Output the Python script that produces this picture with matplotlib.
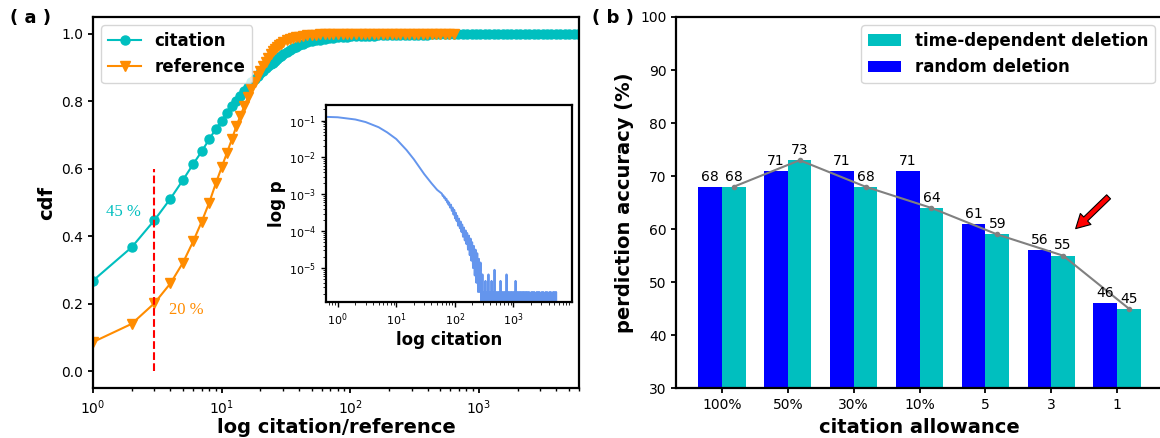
import numpy as np
import matplotlib
matplotlib.use("Agg")
import matplotlib.pyplot as plt

# ---- panel (a): cdf of citation / reference counts ----
cit_x = list(range(1, 31)) + [
    32, 34, 36, 38, 40, 43, 46, 50, 54, 58, 63, 68, 74, 80, 87, 94, 102, 110, 120, 130,
    140, 152, 165, 178, 193, 209, 226, 245, 265, 287, 311, 337, 365, 395, 428, 463, 501,
    543, 588, 636, 689, 746, 808, 875, 947, 1025, 1110, 1200, 1300, 1410, 1530, 1650,
    1790, 1940, 2100, 2270, 2460, 2660, 2880, 3120, 3380, 3660, 3960, 4290, 4640, 5030,
    5440, 5890]
cit_cdf = [
    0.269, 0.368, 0.448, 0.512, 0.567, 0.614, 0.652, 0.688, 0.718, 0.743,
    0.765, 0.785, 0.801, 0.816, 0.831, 0.844, 0.856, 0.866, 0.875, 0.883,
    0.891, 0.898, 0.905, 0.910, 0.915, 0.920, 0.925, 0.930, 0.935, 0.940,
    0.946, 0.952, 0.957, 0.961, 0.966, 0.971, 0.975, 0.978, 0.981, 0.983, 0.985, 0.987,
    0.989, 0.990, 0.991, 0.992, 0.993, 0.993, 0.994, 0.994, 0.995, 0.995, 0.996, 0.996,
    0.996, 0.997, 0.997, 0.997, 0.997, 0.998, 0.998, 0.998, 0.998, 0.998, 0.999, 0.999,
    0.999, 0.999, 0.999, 0.999, 0.999, 1.0, 1.0, 1.0, 1.0, 1.0, 1.0, 1.0, 1.0, 1.0,
    1.0, 1.0, 1.0, 1.0, 1.0, 1.0, 1.0, 1.0, 1.0, 1.0, 1.0, 1.0, 1.0, 1.0, 1.0, 1.0, 1.0, 1.0]

ref_x = list(range(1, 31)) + [
    32, 34, 36, 38, 40, 43, 46, 50, 54, 58, 63, 68, 74, 80, 87, 94, 102, 110, 120, 130,
    140, 152, 165, 178, 193, 209, 226, 245, 265, 287, 311, 337, 365, 395, 428, 463, 501,
    543, 588, 636]
ref_cdf = [
    0.087, 0.141, 0.202, 0.261, 0.322, 0.385, 0.444, 0.500, 0.557, 0.605,
    0.648, 0.688, 0.726, 0.758, 0.786, 0.812, 0.836, 0.856, 0.874, 0.890,
    0.904, 0.917, 0.929, 0.939, 0.948, 0.956, 0.962, 0.967, 0.971, 0.975,
    0.981, 0.985, 0.988, 0.990, 0.992, 0.994, 0.996, 0.997, 0.998, 0.999, 0.999,
    1.0, 1.0, 1.0, 1.0, 1.0, 1.0, 1.0, 1.0, 1.0, 1.0, 1.0, 1.0, 1.0, 1.0, 1.0, 1.0, 1.0,
    1.0, 1.0, 1.0, 1.0, 1.0, 1.0, 1.0, 1.0, 1.0, 1.0, 1.0, 1.0]

# inset: citation distribution -- smooth head, noisy middle (log10 p), count tail
head_x = [0.65, 1, 2, 3, 5, 7, 10, 15, 20, 30, 40, 50]
head_logp = [-0.90, -0.91, -0.97, -1.04, -1.18, -1.32, -1.50, -1.80, -2.05, -2.45,
             -2.70, -2.88]
mid_x = [60, 62, 64, 66, 68, 70, 72, 74, 76, 78, 80, 83, 86, 89, 92, 95, 98, 101, 104,
         107, 110, 114, 118, 122, 126, 130, 134, 138, 143, 148, 153, 158, 163, 168, 174,
         180, 186, 192, 198, 205, 212, 219, 226, 234, 242, 250, 258, 266, 275]
mid_logp = [-2.98, -3.04, -3.03, -3.10, -3.08, -3.16, -3.12, -3.22, -3.18, -3.28,
            -3.22, -3.36, -3.28, -3.45, -3.36, -3.55, -3.42, -3.65, -3.50, -3.72,
            -3.58, -3.85, -3.66, -3.92, -3.74, -4.02, -3.82, -4.15, -3.90, -4.25,
            -3.98, -4.35, -4.05, -4.50, -4.12, -4.65, -4.20, -4.80, -4.30, -5.00,
            -4.40, -5.20, -4.50, -5.40, -4.60, -5.65, -4.75, -5.65, -4.85]
tail_x = [280, 288, 297, 306, 315, 325, 334, 344, 355, 365, 376, 388, 399, 411, 424,
          436, 449, 463, 477, 491, 506, 521, 537, 553, 569, 586, 604, 622, 641, 660,
          680, 700, 721, 743, 765, 788, 812, 836, 861, 887, 914, 941, 969, 998, 1028,
          1059, 1091, 1124, 1157, 1192, 1228, 1265, 1302, 1342, 1382, 1423, 1466, 1510,
          1555, 1602, 1650, 1699, 1750, 1803, 1857, 1913, 1970, 2029, 2090, 2153, 2217,
          2284, 2352, 2423, 2495, 2570, 2647, 2727, 2809, 2893, 2980, 3069, 3161, 3256,
          3354, 3454, 3558, 3665, 3775, 3888, 4004, 4125, 4248, 4376, 4507, 4642, 4782,
          4925, 5073, 5225, 5382, 5543]
tail_counts = [4, 0, 3, 0, 1, 0, 2, 0, 1, 0,
               3, 0, 1, 0, 2, 0, 1, 0, 4, 0,
               1, 0, 1, 0, 1, 0, 2, 0, 1, 0,
               1, 0, 1, 0, 3, 0, 1, 0, 1, 0,
               1, 0, 1, 0, 1, 0, 2, 0, 1, 0,
               1, 0, 1, 0, 1, 0, 1, 0, 1, 0,
               1, 0, 1, 0, 1, 0, 0, 1, 0, 1,
               0, 1, 0, 0, 1, 0, 1, 0, 1, 0,
               0, 1, 0, 1, 0, 0, 1, 0, 1, 0,
               0, 1, 0, 1, 0, 0, 1, 0, 1, 0, 1, 0]
p_unit = 2.24e-6

# ---- panel (b): prediction accuracy ----
allowance = ["100%", "50%", "30%", "10%", "5", "3", "1"]
random_del = [68, 71, 71, 71, 61, 56, 46]
time_del = [68, 73, 68, 64, 59, 55, 45]

fig = plt.figure(figsize=(11.6, 4.38), dpi=100)
ax1 = fig.add_axes([0.0802, 0.1135, 0.419, 0.8477])
ax2 = fig.add_axes([0.5828, 0.1135, 0.4198, 0.8477])
axin = fig.add_axes([0.281, 0.3105, 0.212, 0.4505])

for ax in (ax1, ax2, axin):
    for s in ax.spines.values():
        s.set_linewidth(1.6)

ax1.plot(cit_x, cit_cdf, "-o", color="c", ms=6.5, lw=1.5, label="citation")
ax1.plot(ref_x, ref_cdf, "-v", color="darkorange", ms=7, lw=1.5, label="reference")
ax1.plot([3, 3], [0, 0.6], "--", color="red", lw=1.5)
ax1.text(1.72, 0.473, "45 %", color="c", fontsize=12, family="Liberation Serif",
         ha="center", va="center")
ax1.text(5.3, 0.182, "20 %", color="darkorange", fontsize=12, family="Liberation Serif",
         ha="center", va="center")
ax1.set_xscale("log")
ax1.set_xlim(1, 6000)
ax1.set_ylim(-0.05, 1.05)
ax1.set_xlabel("log citation/reference", fontsize=14, fontweight="bold", labelpad=1)
ax1.set_ylabel("cdf", fontsize=14, fontweight="bold")
ax1.tick_params(labelsize=10, width=1.3)
ax1.tick_params(which="minor", width=1.0)
ax1.legend(loc="upper left", prop={"size": 12, "weight": "bold"})

blue = "cornflowerblue"
inset_x = head_x + mid_x
inset_p = 10 ** np.array(head_logp + mid_logp)
axin.plot(inset_x + tail_x[:1], list(inset_p) + [tail_counts[0] * p_unit], color=blue, lw=1.4)
axin.plot(tail_x, np.array(tail_counts) * p_unit, color=blue, lw=1.4)
axin.set_xscale("log")
axin.set_yscale("log")
axin.set_xlim(0.63, 10000)
axin.set_ylim(1.2e-6, 0.27)
axin.set_yticks([1e-1, 1e-2, 1e-3, 1e-4, 1e-5])
axin.set_xticks([1, 10, 100, 1000])
axin.tick_params(labelsize=8, width=1.0)
axin.set_xlabel("log citation", fontsize=12, fontweight="bold", labelpad=2)
axin.set_ylabel("log p", fontsize=12, fontweight="bold", labelpad=2)

x = np.arange(len(allowance))
w = 0.36
ax2.bar(x - w / 2, random_del, w, color="b", label="random deletion")
ax2.bar(x + w / 2, time_del, w, color="c", label="time-dependent deletion")
ax2.plot(x + w / 2, time_del, "-o", color="gray", lw=1.5, ms=3)
for xi, v in zip(x, random_del):
    ax2.text(xi - w / 2, v + 0.6, str(v), ha="center", va="bottom", fontsize=10)
for xi, v in zip(x, time_del):
    ax2.text(xi + w / 2, v + 0.6, str(v), ha="center", va="bottom", fontsize=10)
ax2.annotate("", xy=(5.37, 60.1), xytext=(5.87, 66.1),
             arrowprops=dict(facecolor="red", edgecolor="black", width=4,
                             headwidth=11, headlength=10, shrink=0, lw=0.8))
ax2.set_ylim(30, 100)
ax2.set_xticks(x)
ax2.set_xticklabels(allowance)
ax2.tick_params(labelsize=10, width=1.3)
ax2.set_xlabel("citation allowance", fontsize=14, fontweight="bold")
ax2.set_ylabel("perdiction accuracy (%)", fontsize=14, fontweight="bold")
h, l = ax2.get_legend_handles_labels()
ax2.legend([h[1], h[0]], [l[1], l[0]], loc="upper right", prop={"size": 12, "weight": "bold"})

fig.text(0.026, 0.96, "( a )", fontsize=13, fontweight="bold", ha="center", va="center")
fig.text(0.528, 0.96, "( b )", fontsize=13, fontweight="bold", ha="center", va="center")

fig.savefig("out.png", dpi=100)
